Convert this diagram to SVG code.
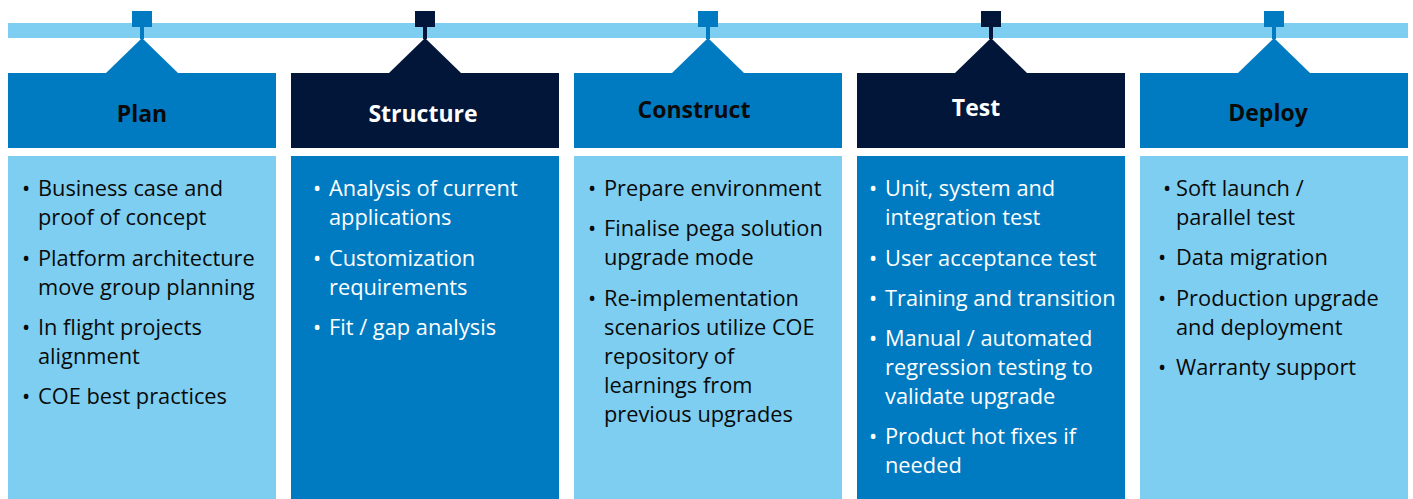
<svg xmlns="http://www.w3.org/2000/svg" width="1413" height="499" viewBox="0 0 1413 499">
<style>
.lb{fill:#7ECEF1}.bl{fill:#007BC1}.nv{fill:#011638}
.h{font-family:"Open Sans","Liberation Sans",sans-serif;font-weight:bold;font-size:23px;text-anchor:middle}
.t{font-family:"Open Sans","Liberation Sans",sans-serif;font-size:21.8px}
.dk{fill:#0a0a0a}.wh{fill:#ffffff}
</style>
<g id="connectors">
<rect class="lb" x="8" y="23" width="1400" height="15"/>
</g>
<g id="plan">
<rect class="bl" x="132" y="11" width="20" height="16"/>
<rect class="bl" x="140" y="26" width="4" height="13"/>
<polygon class="bl" points="142,38 178,73 106,73"/>
<rect class="bl" x="8" y="73" width="268" height="75"/>
<text class="h dk" x="142" y="122">Plan</text>
<rect class="lb" x="8" y="156" width="268" height="343"/>
<g class="t dk">
<text x="22" y="196">•</text><text x="38" y="196">Business case and</text><text x="38" y="225">proof of concept</text>
<text x="22" y="266">•</text><text x="38" y="266">Platform architecture</text><text x="38" y="295">move group planning</text>
<text x="22" y="335">•</text><text x="38" y="335">In flight projects</text><text x="38" y="364">alignment</text>
<text x="22" y="404">•</text><text x="38" y="404">COE best practices</text>
</g>
</g>
<g id="structure">
<rect class="nv" x="415" y="11" width="20" height="16"/>
<rect class="nv" x="423" y="26" width="4" height="13"/>
<polygon class="nv" points="425,38 461,73 389,73"/>
<rect class="nv" x="291" y="73" width="268" height="75"/>
<text class="h wh" x="423" y="122">Structure</text>
<rect class="bl" x="291" y="156" width="268" height="343"/>
<g class="t wh">
<text x="313" y="196">•</text><text x="329" y="196">Analysis of current</text><text x="329" y="225">applications</text>
<text x="313" y="266">•</text><text x="329" y="266">Customization</text><text x="329" y="295">requirements</text>
<text x="313" y="335">•</text><text x="329" y="335">Fit / gap analysis</text>
</g>
</g>
<g id="construct">
<rect class="bl" x="698" y="11" width="20" height="16"/>
<rect class="bl" x="706" y="26" width="4" height="13"/>
<polygon class="bl" points="708,38 744,73 672,73"/>
<rect class="bl" x="574" y="73" width="268" height="75"/>
<text class="h dk" x="694" y="118">Construct</text>
<rect class="lb" x="574" y="156" width="268" height="343"/>
<g class="t dk">
<text x="588" y="196">•</text><text x="604" y="196">Prepare environment</text>
<text x="588" y="236">•</text><text x="604" y="236">Finalise pega solution</text><text x="604" y="265">upgrade mode</text>
<text x="588" y="306">•</text><text x="604" y="306">Re-implementation</text><text x="604" y="335">scenarios utilize COE</text><text x="604" y="364">repository of</text><text x="604" y="393">learnings from</text><text x="604" y="422">previous upgrades</text>
</g>
</g>
<g id="test">
<rect class="nv" x="981" y="11" width="20" height="16"/>
<rect class="nv" x="989" y="26" width="4" height="13"/>
<polygon class="nv" points="991,38 1027,73 955,73"/>
<rect class="nv" x="857" y="73" width="268" height="75"/>
<text class="h wh" x="976" y="116">Test</text>
<rect class="bl" x="857" y="156" width="268" height="343"/>
<g class="t wh">
<text x="869" y="196">•</text><text x="885" y="196">Unit, system and</text><text x="885" y="225">integration test</text>
<text x="869" y="266">•</text><text x="885" y="266">User acceptance test</text>
<text x="869" y="306">•</text><text x="885" y="306">Training and transition</text>
<text x="869" y="346">•</text><text x="885" y="346">Manual / automated</text><text x="885" y="375">regression testing to</text><text x="885" y="404">validate upgrade</text>
<text x="869" y="444">•</text><text x="885" y="444">Product hot fixes if</text><text x="885" y="473">needed</text>
</g>
</g>
<g id="deploy">
<rect class="bl" x="1264" y="11" width="20" height="16"/>
<rect class="bl" x="1272" y="26" width="4" height="13"/>
<polygon class="bl" points="1274,38 1310,73 1238,73"/>
<rect class="bl" x="1140" y="73" width="268" height="75"/>
<text class="h dk" x="1268" y="121">Deploy</text>
<rect class="lb" x="1140" y="156" width="268" height="343"/>
<g class="t dk">
<text x="1163" y="196">•</text><text x="1176" y="196">Soft launch /</text><text x="1176" y="225">parallel test</text>
<text x="1158" y="265">•</text><text x="1176" y="265">Data migration</text>
<text x="1158" y="306">•</text><text x="1176" y="306">Production upgrade</text><text x="1176" y="335">and deployment</text>
<text x="1158" y="375">•</text><text x="1176" y="375">Warranty support</text>
</g>
</g>
</svg>
